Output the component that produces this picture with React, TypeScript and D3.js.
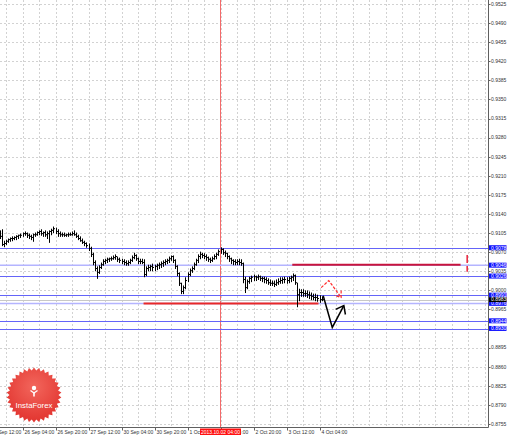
import React from 'react';
import * as d3 from 'd3';

const W = 510, H = 435;
const AXIS_X = 488.5, AXIS_Y = 427.5;
const FONT = '"Liberation Sans", Arial, sans-serif';

// H1 bars, index 0 = 25 Sep 12:00
const firstBar = 5;
const highs = [
  0.9110, 0.9112, 0.9091, 0.9093, 0.9095, 0.9097, 0.9099, 0.9099, 0.9101, 0.9102,
  0.9104, 0.9106, 0.9108, 0.9106, 0.9104, 0.9102, 0.9104, 0.9106, 0.9108, 0.9110,
  0.9112, 0.9108, 0.9110, 0.9108, 0.9110, 0.9113, 0.9117, 0.9115, 0.9112, 0.9108,
  0.9106, 0.9106, 0.9104, 0.9106, 0.9106, 0.9108, 0.9110, 0.9106, 0.9102, 0.9099,
  0.9095, 0.9091, 0.9088, 0.9086, 0.9080, 0.9069, 0.9055, 0.9044, 0.9046, 0.9051,
  0.9057, 0.9058, 0.9060, 0.9060, 0.9062, 0.9064, 0.9066, 0.9062, 0.9060, 0.9058,
  0.9057, 0.9055, 0.9055, 0.9058, 0.9064, 0.9069, 0.9066, 0.9060, 0.9058, 0.9058,
  0.9057, 0.9044, 0.9047, 0.9047, 0.9049, 0.9047, 0.9049, 0.9051, 0.9053, 0.9055,
  0.9057, 0.9058, 0.9062, 0.9064, 0.9064, 0.9057, 0.9046, 0.9033, 0.9014, 0.9009,
  0.9024, 0.9033, 0.9040, 0.9044, 0.9051, 0.9058, 0.9066, 0.9071, 0.9069, 0.9068,
  0.9066, 0.9062, 0.9060, 0.9062, 0.9066, 0.9069, 0.9075, 0.9079, 0.9077, 0.9073,
  0.9069, 0.9064, 0.9060, 0.9057, 0.9057, 0.9057, 0.9058, 0.9057, 0.9051, 0.9025,
  0.9020, 0.9025, 0.9027, 0.9029, 0.9027, 0.9029, 0.9027, 0.9025, 0.9025, 0.9024,
  0.9022, 0.9020, 0.9018, 0.9018, 0.9020, 0.9022, 0.9024, 0.9024, 0.9025, 0.9024,
  0.9025, 0.9027, 0.9031, 0.9029, 0.9014, 0.9003, 0.9002, 0.9002, 0.9000, 0.9000,
  0.8998, 0.8996, 0.8994, 0.8994, 0.8992, 0.8991, 0.8989,
];
const lows = [
  0.9095, 0.9082, 0.9080, 0.9084, 0.9088, 0.9090, 0.9091, 0.9093, 0.9093, 0.9095,
  0.9097, 0.9099, 0.9101, 0.9097, 0.9095, 0.9093, 0.9090, 0.9099, 0.9101, 0.9102,
  0.9101, 0.9099, 0.9099, 0.9095, 0.9088, 0.9102, 0.9106, 0.9104, 0.9099, 0.9099,
  0.9099, 0.9099, 0.9099, 0.9099, 0.9101, 0.9101, 0.9101, 0.9097, 0.9093, 0.9090,
  0.9086, 0.9082, 0.9079, 0.9073, 0.9062, 0.9047, 0.9036, 0.9022, 0.9031, 0.9040,
  0.9046, 0.9049, 0.9051, 0.9053, 0.9055, 0.9057, 0.9057, 0.9053, 0.9051, 0.9049,
  0.9047, 0.9046, 0.9046, 0.9049, 0.9053, 0.9058, 0.9055, 0.9049, 0.9049, 0.9049,
  0.9025, 0.9027, 0.9036, 0.9036, 0.9036, 0.9036, 0.9038, 0.9040, 0.9042, 0.9044,
  0.9047, 0.9049, 0.9051, 0.9055, 0.9051, 0.9040, 0.9027, 0.9009, 0.8994, 0.8994,
  0.9003, 0.9016, 0.9027, 0.9033, 0.9038, 0.9046, 0.9051, 0.9058, 0.9060, 0.9058,
  0.9055, 0.9053, 0.9051, 0.9053, 0.9057, 0.9058, 0.9064, 0.9068, 0.9066, 0.9062,
  0.9058, 0.9053, 0.9049, 0.9047, 0.9047, 0.9047, 0.9047, 0.9046, 0.9014, 0.8996,
  0.9003, 0.9013, 0.9016, 0.9018, 0.9018, 0.9020, 0.9018, 0.9016, 0.9014, 0.9013,
  0.9011, 0.9009, 0.9009, 0.9007, 0.9009, 0.9011, 0.9013, 0.9013, 0.9014, 0.9013,
  0.9014, 0.9016, 0.9018, 0.9011, 0.8970, 0.8981, 0.8989, 0.8989, 0.8989, 0.8987,
  0.8985, 0.8983, 0.8983, 0.8981, 0.8980, 0.8978, 0.8981,
];
const closes = [
  0.9099, 0.9084, 0.9086, 0.9090, 0.9093, 0.9095, 0.9095, 0.9097, 0.9099, 0.9101,
  0.9101, 0.9104, 0.9104, 0.9101, 0.9099, 0.9097, 0.9102, 0.9102, 0.9106, 0.9108,
  0.9104, 0.9106, 0.9102, 0.9104, 0.9108, 0.9110, 0.9113, 0.9108, 0.9104, 0.9102,
  0.9102, 0.9101, 0.9102, 0.9102, 0.9102, 0.9104, 0.9102, 0.9099, 0.9095, 0.9091,
  0.9088, 0.9086, 0.9082, 0.9077, 0.9066, 0.9051, 0.9040, 0.9033, 0.9042, 0.9047,
  0.9053, 0.9055, 0.9057, 0.9058, 0.9058, 0.9060, 0.9062, 0.9057, 0.9055, 0.9053,
  0.9051, 0.9049, 0.9051, 0.9055, 0.9060, 0.9064, 0.9058, 0.9053, 0.9053, 0.9051,
  0.9029, 0.9040, 0.9042, 0.9044, 0.9042, 0.9044, 0.9046, 0.9047, 0.9049, 0.9051,
  0.9053, 0.9055, 0.9058, 0.9062, 0.9055, 0.9044, 0.9031, 0.9013, 0.8998, 0.9005,
  0.9018, 0.9029, 0.9036, 0.9040, 0.9047, 0.9055, 0.9062, 0.9066, 0.9064, 0.9062,
  0.9060, 0.9057, 0.9055, 0.9058, 0.9062, 0.9066, 0.9071, 0.9075, 0.9069, 0.9068,
  0.9062, 0.9058, 0.9055, 0.9053, 0.9051, 0.9053, 0.9051, 0.9049, 0.9020, 0.9005,
  0.9016, 0.9022, 0.9024, 0.9025, 0.9024, 0.9025, 0.9022, 0.9022, 0.9020, 0.9018,
  0.9014, 0.9013, 0.9013, 0.9011, 0.9014, 0.9016, 0.9018, 0.9020, 0.9020, 0.9018,
  0.9022, 0.9024, 0.9027, 0.9014, 0.8992, 0.8996, 0.8996, 0.8994, 0.8994, 0.8992,
  0.8991, 0.8989, 0.8987, 0.8987, 0.8985, 0.8983, 0.8983,
];

const timeTickIdx = [0, 16, 32, 48, 64, 80, 96, 112, 128, 144, 160];
const timeTickLabels = [
  '25 Sep 12:00', '26 Sep 04:00', '26 Sep 20:00', '27 Sep 12:00', '30 Sep 04:00',
  '30 Sep 20:00', '1 Oct 12:00', '2 Oct 04:00', '2 Oct 20:00', '3 Oct 12:00', '4 Oct 04:00',
];

const priceTicks = [
  0.9525, 0.9490, 0.9455, 0.9420, 0.9385, 0.9350, 0.9315, 0.9280, 0.9245, 0.9210,
  0.9175, 0.9140, 0.9105, 0.9070, 0.9035, 0.9000, 0.8965, 0.8930, 0.8895, 0.8860,
  0.8825, 0.8790, 0.8755,
];

const blueLevels = [0.9078, 0.9026, 0.8991, 0.8944, 0.8930];
const lightLevels = [0.9046, 0.8976];
const bidLevel = 0.8983;
const blueLabels = [0.9078, 0.9046, 0.9026, 0.8991, 0.8976, 0.8944, 0.8930];

const cursorIdx = 112;
const cursorLabel = '2013.10.02 04:00';

// red segments [startIdx, endIdx, price]
const upperRed = [146.8, 228.4, 0.9047];
const lowerRed = [74.7, 159.5, 0.8976];
const redMarkIdx = 231.6;
const redMarkPrices = [0.9065, 0.9034];

const forecastBlack = [[161.8, 0.8990], [166.2, 0.8932], [171.8, 0.8972]];
const forecastRed = [[160.8, 0.9005], [164.5, 0.9018], [170.5, 0.8987]];

const x = d3.scaleLinear().domain([0, 112]).range([-10.5, 220.5]);
const y = d3.scaleLinear().domain([0.8755, 0.9525]).range([424, 4]);

function arrowHead(pts: number[][], len: number, ang: number) {
  const n = pts.length;
  const [x1, y1] = [x(pts[n - 2][0]), y(pts[n - 2][1])];
  const [x2, y2] = [x(pts[n - 1][0]), y(pts[n - 1][1])];
  const back = Math.atan2(y1 - y2, x1 - x2);
  const a = (ang * Math.PI) / 180;
  const p1 = [x2 + len * Math.cos(back + a), y2 + len * Math.sin(back + a)];
  const p2 = [x2 + len * Math.cos(back - a), y2 + len * Math.sin(back - a)];
  return `M${p1[0]},${p1[1]}L${x2},${y2}L${p2[0]},${p2[1]}`;
}

function Logo() {
  const cx = 34, cy = 395, n = 34, ro = 27.5, ri = 24.5;
  const pts: string[] = [];
  for (let k = 0; k < n * 2; k++) {
    const r = k % 2 === 0 ? ro : ri;
    const a = (k * Math.PI) / n - Math.PI / 2;
    pts.push(`${cx + r * Math.cos(a)},${cy + r * Math.sin(a)}`);
  }
  return (
    <g>
      <defs>
        <radialGradient id="lg" cx="50%" cy="35%" r="65%">
          <stop offset="0%" stopColor="#f2665c" />
          <stop offset="100%" stopColor="#e2342f" />
        </radialGradient>
      </defs>
      <polygon points={pts.join(' ')} fill="url(#lg)" />
      <circle cx={cx} cy={cy - 7} r={2.2} fill="#fff" />
      <path d={`M${cx - 3.5},${cy - 4.5}L${cx},${cy - 2}L${cx + 3.5},${cy - 4.5}`} stroke="#fff" strokeWidth={1.3} fill="none" />
      <rect x={cx - 0.8} y={cy - 3} width={1.6} height={4.5} fill="#fff" />
      <text x={cx} y={cy + 13} textAnchor="middle" fontFamily={FONT} fontSize={7.8} fill="#fff">InstaForex</text>
    </g>
  );
}

export default function App() {
  const gridX: number[] = [];
  for (let i = 0; x(i) < AXIS_X; i += 8) gridX.push(i);
  const line = d3.line<number[]>().x(d => x(d[0])).y(d => y(d[1]));

  return (
    <svg width={W} height={H} style={{ position: 'absolute', left: 0, top: 0, background: '#fff' }}>
      <rect x={0} y={0} width={W} height={H} fill="#fff" />
      {/* grid */}
      <g stroke="#d2d2d2" strokeWidth={1} strokeDasharray="2 2">
        {gridX.map(i => (
          <line key={'gx' + i} x1={Math.round(x(i)) + 0.5} x2={Math.round(x(i)) + 0.5} y1={0} y2={AXIS_Y} />
        ))}
        {priceTicks.map(p => (
          <line key={'gy' + p} x1={0} x2={AXIS_X} y1={Math.round(y(p)) + 0.5} y2={Math.round(y(p)) + 0.5} />
        ))}
      </g>
      <Logo />
      {/* cursor line */}
      <line x1={x(cursorIdx)} x2={x(cursorIdx)} y1={0} y2={AXIS_Y} stroke="#f46a6a" strokeWidth={1} />
      {/* levels */}
      {lightLevels.map(p => (
        <line key={'ll' + p} x1={0} x2={AXIS_X} y1={y(p)} y2={y(p)} stroke="#b4b4ff" strokeWidth={1.6} />
      ))}
      {blueLevels.map(p => (
        <line key={'bl' + p} x1={0} x2={AXIS_X} y1={Math.round(y(p)) + 0.5} y2={Math.round(y(p)) + 0.5} stroke="#6464f8" strokeWidth={1} />
      ))}
      <line x1={0} x2={AXIS_X} y1={Math.round(y(bidLevel)) + 0.5} y2={Math.round(y(bidLevel)) + 0.5} stroke="#c8c8c8" strokeWidth={1} />
      {/* red lines */}
      <line x1={x(upperRed[0])} x2={x(upperRed[1])} y1={y(upperRed[2])} y2={y(upperRed[2])} stroke="#c8143c" strokeWidth={2} />
      <line x1={x(lowerRed[0])} x2={x(lowerRed[1])} y1={y(lowerRed[2])} y2={y(lowerRed[2])} stroke="#e82828" strokeWidth={2} />
      <line x1={x(redMarkIdx)} x2={x(redMarkIdx)} y1={y(redMarkPrices[0])} y2={y(redMarkPrices[1])} stroke="#e8203a" strokeWidth={1.5} strokeDasharray="8 3" />
      {/* bars */}
      <g stroke="#000" strokeWidth={1}>
        {highs.map((h, k) => {
          const xi = Math.round(x(firstBar + k)) + 0.5;
          const yc = y(closes[k]);
          return (
            <g key={'b' + k}>
              <line x1={xi} x2={xi} y1={y(h)} y2={y(lows[k]) + 0.5} />
              <line x1={xi} x2={xi + 1.5} y1={yc} y2={yc} />
            </g>
          );
        })}
      </g>
      {/* forecasts */}
      <path d={line(forecastRed) || ''} fill="none" stroke="#ff2a2a" strokeWidth={1.2} strokeDasharray="3 1.5" />
      <path d={arrowHead(forecastRed, 7, 36)} fill="none" stroke="#ff2a2a" strokeWidth={1.2} strokeDasharray="3 1.5" />
      <path d={line(forecastBlack) || ''} fill="none" stroke="#000" strokeWidth={1.5} />
      <path d={arrowHead(forecastBlack, 9, 38)} fill="none" stroke="#000" strokeWidth={1.5} />
      {/* axes */}
      <line x1={AXIS_X} x2={AXIS_X} y1={0} y2={AXIS_Y} stroke="#606060" />
      <line x1={0} x2={AXIS_X} y1={AXIS_Y} y2={AXIS_Y} stroke="#606060" />
      <g fontFamily={FONT} fontSize={5} fill="#333">
        {priceTicks.map(p => (
          <g key={'pt' + p}>
            <line x1={AXIS_X} x2={AXIS_X + 2} y1={Math.round(y(p)) + 0.5} y2={Math.round(y(p)) + 0.5} stroke="#606060" />
            <text x={AXIS_X + 2.5} y={y(p) + 1.8}>{p.toFixed(4)}</text>
          </g>
        ))}
        {timeTickIdx.map((t, k) => (
          <g key={'tt' + t}>
            <line x1={Math.round(x(t)) + 0.5} x2={Math.round(x(t)) + 0.5} y1={AXIS_Y} y2={AXIS_Y + 3} stroke="#606060" />
            <text x={x(t) + 2} y={434}>{timeTickLabels[k]}</text>
          </g>
        ))}
      </g>
      {/* highlighted price labels */}
      <g fontFamily={FONT} fontSize={5} fill="#fff">
        {blueLabels.map(p => (
          <g key={'hl' + p}>
            <rect x={AXIS_X + 0.5} y={y(p) - 2.6} width={17.5} height={5} fill="#1010ff" />
            <text x={AXIS_X + 2.5} y={y(p) + 1.8}>{p.toFixed(4)}</text>
          </g>
        ))}
        <rect x={AXIS_X + 0.5} y={y(bidLevel) - 2.4} width={17.5} height={4.8} fill="#000" />
        <text x={AXIS_X + 2.5} y={y(bidLevel) + 1.8}>{bidLevel.toFixed(4)}</text>
        <rect x={x(cursorIdx) - 20.5} y={428.5} width={41} height={6.5} fill="#ff1010" />
        <text x={x(cursorIdx)} y={434} textAnchor="middle">{cursorLabel}</text>
      </g>
    </svg>
  );
}
